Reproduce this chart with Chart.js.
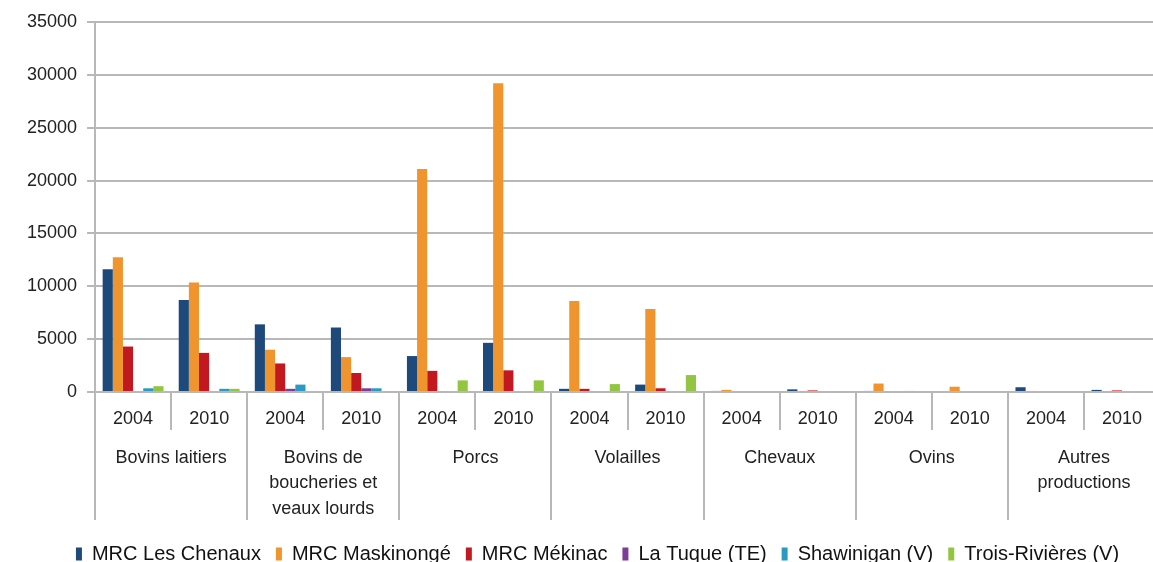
<!DOCTYPE html>
<html>
<head>
<meta charset="utf-8">
<script src="https://cdn.jsdelivr.net/npm/chart.js@4"></script>
<style>
  html, body { margin: 0; padding: 0; background: #fff; overflow: hidden; }
  #wrap { width: 1153px; height: 562px; overflow: hidden; position: relative; }
</style>
</head>
<body>
<div id="wrap"><canvas id="chart" width="1170" height="574"></canvas></div>
<script>
// Categories: two years per production type
const years = ['2004', '2010', '2004', '2010', '2004', '2010', '2004', '2010', '2004', '2010', '2004', '2010', '2004', '2010'];
const groups = ['Bovins laitiers', ['Bovins de', 'boucheries et', 'veaux lourds'], 'Porcs', 'Volailles', 'Chevaux', 'Ovins', ['Autres', 'productions']];

// Series values
const lesChenaux   = [11600, 8700, 6400, 6100, 3400, 4650, 300, 700, 100, 250, 100, 0, 450, 200];
const maskinonge   = [12750, 10350, 4000, 3300, 21100, 29200, 8600, 7850, 200, 100, 800, 500, 100, 0];
const mekinac      = [4300, 3700, 2700, 1800, 2000, 2050, 300, 350, 0, 150, 0, 0, 0, 150];
const laTuque      = [0, 0, 300, 350, 0, 0, 0, 0, 0, 0, 0, 0, 0, 0];
const shawinigan   = [350, 300, 700, 350, 0, 0, 0, 0, 0, 0, 100, 0, 0, 0];
const troisRivieres = [550, 300, 0, 0, 1100, 1100, 750, 1600, 0, 0, 0, 0, 0, 0];

const yTicks = [0, 5000, 10000, 15000, 20000, 25000, 30000, 35000];

const font = 'Liberation Sans, Arial, Helvetica, sans-serif';
const gridColor = '#b8b8b8';

function series(label, data, color) {
  return { label, data, backgroundColor: color, borderWidth: 0, xAxisID: 'x', yAxisID: 'y' };
}

// nudge the legend a little to the right, like the original
const legendShift = {
  id: 'legendShift',
  afterLayout(chart) {
    if (chart.legend) {
      chart.legend.left += 9;
      chart.legend.right += 9;
    }
  }
};

new Chart(document.getElementById('chart'), {
  type: 'bar',
  data: {
    labels: years,
    datasets: [
      series('MRC Les Chenaux', lesChenaux, '#1d4a7a'),
      series('MRC Maskinongé', maskinonge, '#f0942e'),
      series('MRC Mékinac', mekinac, '#c1191f'),
      series('La Tuque (TE)', laTuque, '#7b3d96'),
      series('Shawinigan (V)', shawinigan, '#2c9ac0'),
      series('Trois-Rivières (V)', troisRivieres, '#93c640')
    ]
  },
  plugins: [legendShift],
  options: {
    responsive: false,
    animation: false,
    devicePixelRatio: 1,
    layout: { padding: { left: 17, top: 22, right: 10, bottom: 0 } },
    datasets: { bar: { categoryPercentage: 0.8, barPercentage: 1.0 } },
    plugins: {
      tooltip: { enabled: false },
      legend: {
        position: 'bottom',
        labels: {
          boxWidth: 6,
          boxHeight: 13,
          padding: 15,
          color: '#111',
          font: { family: font, size: 20 }
        }
      }
    },
    scales: {
      y: {
        min: 0,
        max: 35000,
        afterBuildTicks: (scale) => { scale.ticks = yTicks.map(v => ({ value: v })); },
        ticks: { color: '#222', padding: 10, font: { family: font, size: 18 }, callback: (v) => String(v) },
        grid: { color: gridColor, lineWidth: 2, tickLength: 8 },
        border: { color: gridColor, width: 2 }
      },
      x: {
        position: 'bottom',
        offset: true,
        ticks: { color: '#222', padding: -22, maxRotation: 0, autoSkip: false, font: { family: font, size: 18 } },
        grid: { offset: true, drawOnChartArea: false, color: gridColor, lineWidth: 2, tickLength: 38 },
        border: { color: gridColor, width: 2 },
        afterFit: (scale) => { scale.height = 38; }
      },
      x2: {
        type: 'category',
        position: 'bottom',
        labels: groups,
        offset: true,
        ticks: { color: '#222', padding: -74, maxRotation: 0, autoSkip: false, font: { family: font, size: 18, lineHeight: 1.39 } },
        grid: { offset: true, drawOnChartArea: false, color: gridColor, lineWidth: 2, tickLength: 90 },
        border: { display: false },
        afterFit: (scale) => { scale.height = 99; }
      }
    }
  }
});
</script>
</body>
</html>
